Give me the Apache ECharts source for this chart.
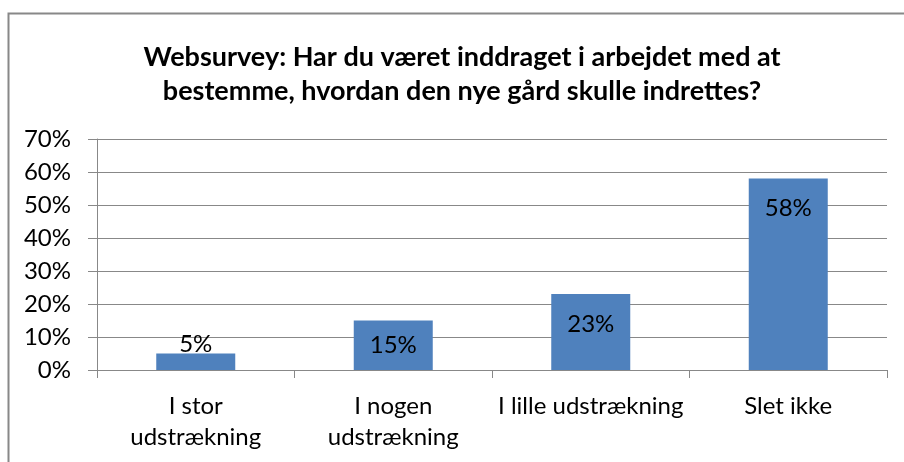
<!DOCTYPE html>
<html>
<head>
<meta charset="utf-8">
<script src="https://cdn.jsdelivr.net/npm/echarts@6/dist/echarts.min.js"></script>
<style>
  html, body { margin: 0; padding: 0; background: #fff; overflow: hidden; }
  #main { width: 924px; height: 462px; }
</style>
</head>
<body>
<div id="main"></div>
<script>
// data
var categories = ['I stor\nudstrækning', 'I nogen\nudstrækning', 'I lille udstrækning', 'Slet ikke'];
var values = [5, 15, 23, 58];
var yTicks = [0, 10, 20, 30, 40, 50, 60, 70];

var titleText = 'Websurvey: Har du været inddraget i arbejdet med at\nbestemme, hvordan den nye gård skulle indrettes?';

var font = 'Lato, "Open Sans", sans-serif';
var grey = '#888888';

// excel style label placement: small bars get the label above / centered
function labelFor(v) {
  if (v < 10) return { position: 'top', distance: -3 };
  if (v < 20) return { position: 'inside' };
  return { position: 'insideTop', distance: 18 };
}

var barData = values.map(function(v) {
  return { value: v, label: labelFor(v) };
});

var chart = echarts.init(document.getElementById('main'));

chart.setOption({
  animation: false,
  textStyle: { fontFamily: font },
  title: {
    text: titleText,
    left: 'center',
    top: 35,
    textStyle: {
      fontFamily: font,
      fontSize: 27,
      fontWeight: 'bold',
      color: '#000',
      lineHeight: 34
    }
  },
  graphic: [{
    type: 'rect',
    shape: { x: 8.5, y: 13.5, width: 1000, height: 1000 },
    style: { fill: 'none', stroke: grey, lineWidth: 2 },
    silent: true
  }],
  grid: {
    left: 97,
    right: 37,
    top: 139,
    bottom: 92
  },
  xAxis: {
    type: 'category',
    data: categories,
    axisLine: { lineStyle: { color: grey, width: 1 } },
    axisTick: { show: true, alignWithLabel: false, length: 8, lineStyle: { color: grey } },
    axisLabel: {
      color: '#000',
      fontSize: 24,
      fontFamily: font,
      lineHeight: 31,
      margin: 21,
      interval: 0
    }
  },
  yAxis: {
    type: 'value',
    min: yTicks[0],
    max: yTicks[yTicks.length - 1],
    interval: 10,
    axisLine: { show: true, lineStyle: { color: grey, width: 1 } },
    axisTick: { show: true, length: 9, lineStyle: { color: grey } },
    splitLine: { lineStyle: { color: grey, width: 1 } },
    axisLabel: {
      color: '#000',
      fontSize: 24,
      fontFamily: font,
      margin: 26,
      formatter: '{value}%'
    }
  },
  series: [{
    type: 'bar',
    data: barData,
    barWidth: '40%',
    itemStyle: { color: '#4F81BD' },
    label: {
      show: true,
      color: '#000',
      fontSize: 24,
      fontFamily: font,
      formatter: '{c}%'
    }
  }]
});
</script>
</body>
</html>
